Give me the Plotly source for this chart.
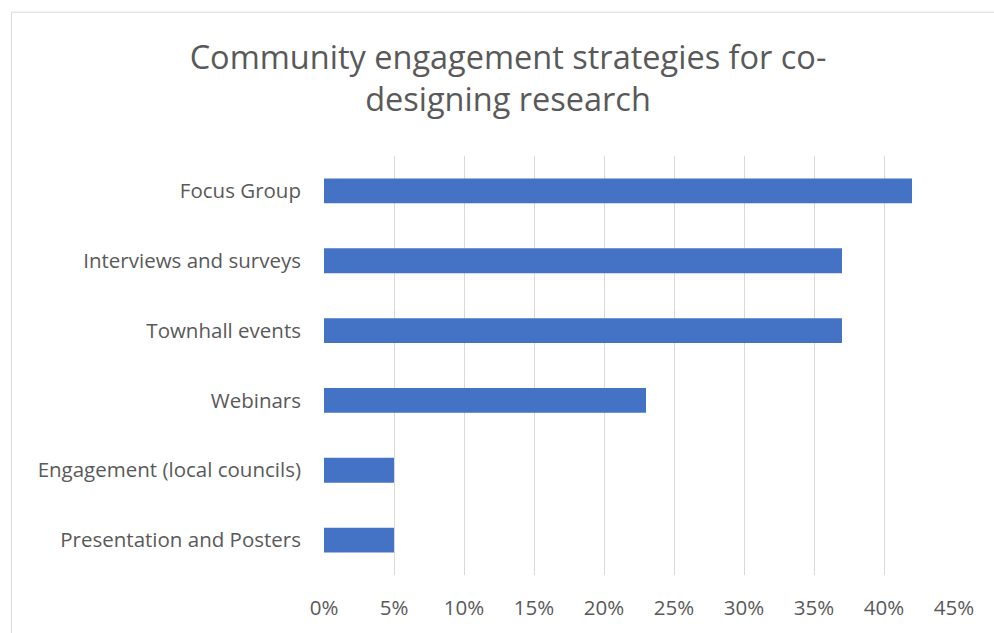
import plotly.graph_objects as go

# Share of projects using each community engagement strategy (%)
strategies = [
    "Presentation and Posters",
    "Engagement (local councils)",
    "Webinars",
    "Townhall events",
    "Interviews and surveys",
    "Focus Group",
]
shares = [5, 5, 23, 37, 37, 42]
tick_values = [0, 5, 10, 15, 20, 25, 30, 35, 40, 45]
tick_labels = ["0%", "5%", "10%", "15%", "20%", "25%", "30%", "35%", "40%", "45%"]

W, H = 994, 633
L, R, T, B = 324, 40, 156, 56
plot_w = W - L - R
plot_h = H - T - B

text_color = "#595959"
font_family = "Open Sans, Segoe UI, sans-serif"

fig = go.Figure(
    go.Bar(
        x=shares,
        y=strategies,
        orientation="h",
        marker=dict(color="#4472C4", line=dict(width=0)),
        hoverinfo="x+y",
    )
)


def px_to_paper_x(px):
    return (px - L) / plot_w


def px_to_paper_y(py):
    return (H - B - py) / plot_h


fig.update_layout(
    width=W,
    height=H,
    margin=dict(l=L, r=R, t=T, b=B),
    paper_bgcolor="white",
    plot_bgcolor="white",
    bargap=0.644,
    showlegend=False,
    font=dict(family=font_family, color=text_color),
    title=dict(
        text="Community engagement strategies for co-<br>designing research",
        x=508 / W,
        xanchor="center",
        xref="container",
        y=1 - 69 / H,
        yanchor="top",
        yref="container",
        font=dict(size=32.5, color=text_color, family=font_family),
    ),
    xaxis=dict(
        range=[0, 45],
        tickvals=tick_values,
        ticktext=tick_labels,
        showgrid=True,
        gridcolor="#D9D9D9",
        gridwidth=1,
        zeroline=False,
        showline=False,
        ticks="",
        ticklabelstandoff=18,
        tickfont=dict(size=20.5, color=text_color),
        fixedrange=True,
    ),
    yaxis=dict(
        showgrid=False,
        zeroline=False,
        showline=False,
        ticks="",
        ticklabelstandoff=22,
        tickfont=dict(size=20.5, color=text_color),
        fixedrange=True,
    ),
    shapes=[
        dict(
            type="rect",
            xref="paper",
            yref="paper",
            x0=px_to_paper_x(11.5),
            x1=px_to_paper_x(1010),
            y0=px_to_paper_y(650),
            y1=px_to_paper_y(11.5),
            line=dict(color="#D9D9D9", width=1),
            fillcolor="rgba(0,0,0,0)",
            layer="below",
        )
    ],
)

fig.write_html("out.html")
